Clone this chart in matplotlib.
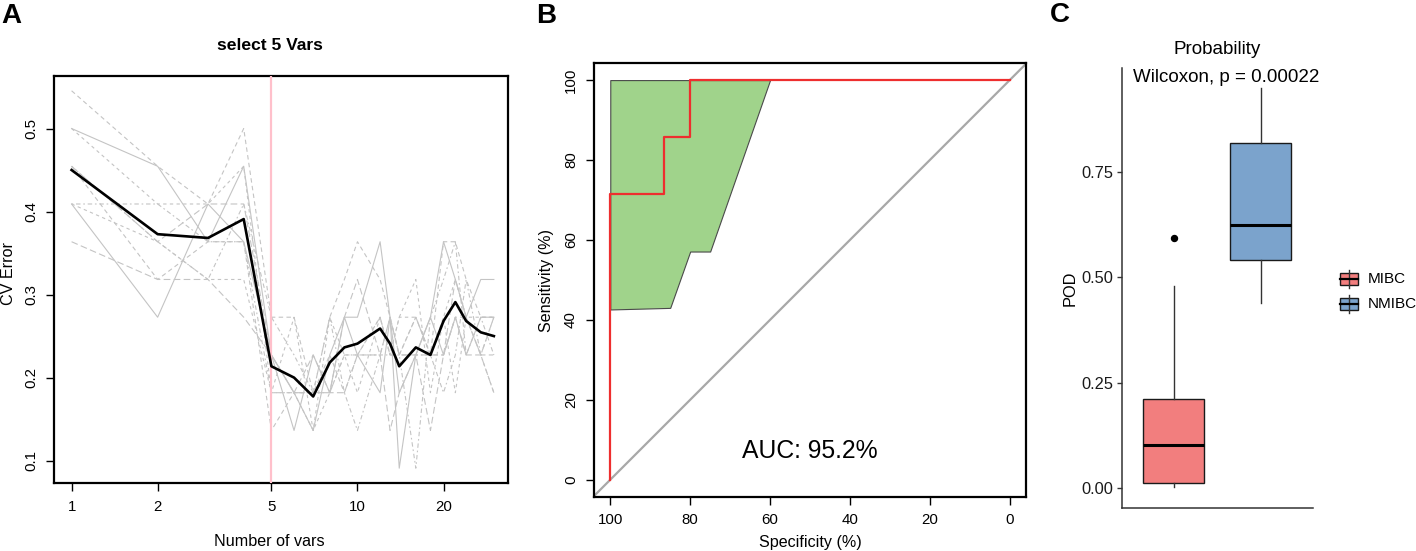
import numpy as np
import matplotlib
matplotlib.use('Agg')
import matplotlib.pyplot as plt
from matplotlib.patches import Rectangle
from matplotlib.lines import Line2D

plt.rcParams['font.family'] = ['Liberation Sans', 'DejaVu Sans']

W, H = 1416, 551

# ---------------- Panel A data ----------------
n_vars = [1, 2, 3, 4, 5, 6, 7, 8, 9, 10, 12, 13, 14, 16, 18, 20, 22, 24, 27, 30]
n_samples = 22
# misclassified samples (out of 22) per CV replicate
rep1 = [12, 10, 9, 11, 6, 6, 4, 6, 7, 8, 7, 6, 5, 6, 5, 8, 8, 7, 6, 6]
rep2 = [11, 10, 8, 10, 5, 4, 3, 5, 6, 6, 8, 6, 2, 5, 6, 8, 7, 6, 7, 7]
rep3 = [11, 9, 9, 10, 4, 4, 3, 4, 5, 5, 6, 5, 6, 7, 4, 6, 7, 6, 5, 4]
rep4 = [10, 8, 7, 9, 6, 5, 4, 6, 4, 3, 5, 6, 5, 2, 6, 7, 8, 5, 6, 5]
rep5 = [10, 8, 9, 9, 5, 4, 5, 4, 6, 7, 5, 3, 4, 5, 3, 5, 7, 6, 5, 6]
rep6 = [10, 7, 8, 8, 3, 4, 4, 5, 4, 5, 6, 5, 5, 6, 5, 5, 6, 6, 5, 5]
rep7 = [9, 6, 9, 8, 5, 3, 5, 4, 6, 5, 4, 6, 4, 5, 6, 5, 6, 5, 6, 6]
rep8 = [9, 8, 7, 7, 4, 6, 3, 6, 5, 4, 6, 5, 6, 6, 5, 6, 4, 6, 6, 6]
rep9 = [9, 9, 8, 8, 4, 4, 4, 4, 5, 5, 5, 5, 5, 5, 5, 4, 5, 7, 5, 6]
rep10 = [8, 7, 7, 6, 5, 4, 4, 4, 4, 5, 5, 6, 5, 5, 5, 5, 6, 5, 5, 4]
selected_n = 5
a_xticks = [1, 2, 5, 10, 20]
a_yticks = [0.1, 0.2, 0.3, 0.4, 0.5]

# ---------------- Panel B data ----------------
roc_spec = [100, 100, 86.67, 86.67, 80, 80, 0]
roc_sens = [0, 71.43, 71.43, 85.71, 85.71, 100, 100]
ci_spec = [100, 85, 80, 75, 60]
ci_lower = [42.6, 43.0, 57.1, 57.1, 100]
ci_upper = [100, 100, 100, 100, 100]
diag_spec = [100, 0]
diag_sens = [0, 100]
b_ticks = [0, 20, 40, 60, 80, 100]
auc_label = "AUC: 95.2%"

# ---------------- Panel C data ----------------
groups = ['MIBC', 'NMIBC']
box_q1 = [0.011, 0.541]
box_med = [0.102, 0.624]
box_q3 = [0.212, 0.819]
box_lo = [0.002, 0.440]
box_hi = [0.480, 0.950]
box_out = [[0.595], []]
box_colors = ['#F27E7E', '#7BA3CC']
c_yticks = [0.00, 0.25, 0.50, 0.75]
p_label = "Wilcoxon, p = 0.00022"


def rect(l, t, r, b):
    return [l / W, 1 - b / H, (r - l) / W, (b - t) / H]


def fx(x):
    return x / W


def fy(y):
    return 1 - y / H


fig = plt.figure(figsize=(W / 100, H / 100), dpi=100)

# ================= Panel A =================
axA = fig.add_axes(rect(54.3, 75.7, 508.3, 483.3))
reps = np.array([rep1, rep2, rep3, rep4, rep5, rep6, rep7, rep8, rep9, rep10]) / n_samples
styles = [(0, (4, 3)), '-', (0, (3, 3)), (0, (1.5, 2.5, 4, 2.5)), (0, (6, 3))]
for i, row in enumerate(reps):
    axA.plot(n_vars, row, color='#C4C4C4', lw=0.8, ls=styles[i % 5], zorder=2)
axA.axvline(selected_n, color='#FFC0CB', lw=1.6, zorder=3)
axA.plot(n_vars, reps.mean(axis=0), color='black', lw=1.9, zorder=4)
axA.set_xscale('log')
axA.set_xlim(0.87, 33.7)
axA.set_ylim(0.0727, 0.5636)
axA.set_xticks(a_xticks)
axA.set_xticklabels([str(t) for t in a_xticks], fontsize=10.8)
axA.xaxis.set_minor_locator(matplotlib.ticker.NullLocator())
axA.set_yticks(a_yticks)
axA.set_yticklabels([f"{t:.1f}" for t in a_yticks], rotation=90, va='center', fontsize=10.8)
axA.tick_params(length=5.8, width=1, pad=6)
for s in axA.spines.values():
    s.set_linewidth(1.6)
fig.text(fx(270), fy(45.7), "select 5 Vars", ha='center', va='center', fontsize=12.6, fontweight='bold')
fig.text(fx(269), fy(541.7), "Number of vars", ha='center', va='center', fontsize=11.6)
fig.text(fx(8.3), fy(274), "CV Error", ha='center', va='center', fontsize=11.6, rotation=90)
fig.text(fx(1), fy(16), "A", ha='left', va='center', fontsize=20, fontweight='bold')

# ================= Panel B =================
axB = fig.add_axes(rect(594.3, 63.3, 1025.7, 496.5))
axB.fill_between(ci_spec, ci_lower, ci_upper, facecolor='#A0D38B', edgecolor='#4a4a4a', lw=0.8, zorder=2)
axB.axline((diag_spec[0], diag_sens[0]), (diag_spec[1], diag_sens[1]), color='#A8A8A8', lw=1.6, zorder=1)
axB.plot(roc_spec, roc_sens, color='#EE2E2E', lw=1.6, zorder=3)
axB.set_xlim(104, -4)
axB.set_ylim(-4.2, 104.2)
axB.set_xticks(b_ticks)
axB.set_xticklabels([str(t) for t in b_ticks], fontsize=10.8)
axB.set_yticks(b_ticks)
axB.set_yticklabels([str(t) for t in b_ticks], rotation=90, va='center', fontsize=10.8)
axB.tick_params(length=5.8, width=1, pad=6)
for s in axB.spines.values():
    s.set_linewidth(1.6)
axB.text(50, 7.2, auc_label, ha='center', va='center', fontsize=17.8)
fig.text(fx(810), fy(542.7), "Specificity (%)", ha='center', va='center', fontsize=11.6)
fig.text(fx(546.7), fy(280), "Sensitivity (%)", ha='center', va='center', fontsize=11.6, rotation=90)
fig.text(fx(536.5), fy(16), "B", ha='left', va='center', fontsize=20, fontweight='bold')

# ================= Panel C =================
axC = fig.add_axes(rect(1121.7, 68.3, 1312.7, 507.7))
stats = []
for i, g in enumerate(groups):
    stats.append(dict(label=g, med=box_med[i], q1=box_q1[i], q3=box_q3[i],
                      whislo=box_lo[i], whishi=box_hi[i], fliers=box_out[i]))
bp = axC.bxp(stats, positions=[1, 2], widths=0.7, patch_artist=True, showcaps=False,
             boxprops=dict(linewidth=1.0, edgecolor='#1a1a1a'),
             medianprops=dict(color='black', linewidth=2.2),
             whiskerprops=dict(color='#333333', linewidth=1.0),
             flierprops=dict(marker='o', markerfacecolor='black', markeredgecolor='black', markersize=4.3))
for patch, c in zip(bp['boxes'], box_colors):
    patch.set_facecolor(c)
axC.set_xlim(0.4, 2.6)
axC.set_ylim(-0.0475, 0.9975)
axC.set_xticks([])
axC.set_yticks(c_yticks)
axC.set_yticklabels([f"{t:.2f}" for t in c_yticks], fontsize=11.8, color='#1a1a1a')
axC.tick_params(axis='y', length=3.5, width=1, color='#333333', pad=2.5)
axC.spines['top'].set_visible(False)
axC.spines['right'].set_visible(False)
for s in ['left', 'bottom']:
    axC.spines[s].set_color('#333333')
    axC.spines[s].set_linewidth(1.1)
fig.text(fx(1217), fy(50), "Probability", ha='center', va='center', fontsize=13.6)
fig.text(fx(1133), fy(77), p_label, ha='left', va='center', fontsize=13.5)
fig.text(fx(1070), fy(288), "POD", ha='center', va='center', fontsize=11.8, rotation=90)
fig.text(fx(1049.5), fy(15), "C", ha='left', va='center', fontsize=20, fontweight='bold')

# legend (ggplot-style keys)
key_cy = [279, 304]
for g, c, cy in zip(groups, box_colors, key_cy):
    fig.add_artist(Line2D([fx(1348.7), fx(1348.7)], [fy(cy - 9), fy(cy + 9)],
                          transform=fig.transFigure, color='#333333', lw=1.0))
    fig.add_artist(Rectangle((fx(1340), fy(cy + 6)), fx(17.7), 12 / H, transform=fig.transFigure,
                             facecolor=c, edgecolor='#1a1a1a', lw=1.0))
    fig.add_artist(Line2D([fx(1340), fx(1357.7)], [fy(cy), fy(cy)],
                          transform=fig.transFigure, color='black', lw=1.6))
    fig.text(fx(1368), fy(cy), g, ha='left', va='center', fontsize=11.0)

fig.savefig('out.png', dpi=100)
